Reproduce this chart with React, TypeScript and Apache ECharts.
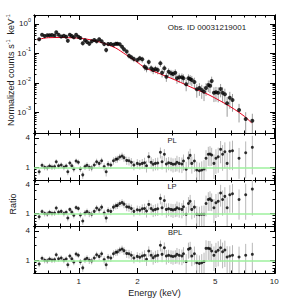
import React, { useEffect, useRef } from 'react';
import * as echarts from 'echarts';

// ---------- data ----------
const ENERGY = [
  0.627, 0.649, 0.669, 0.690, 0.709, 0.729, 0.752, 0.767, 0.788, 0.813,
  0.839, 0.862, 0.879, 0.900, 0.921, 0.943, 0.969, 0.995, 1.019, 1.048,
  1.076, 1.102, 1.132, 1.164, 1.200, 1.234, 1.272, 1.309, 1.349, 1.381,
  1.413, 1.459, 1.505, 1.547, 1.577, 1.621, 1.665, 1.704, 1.759, 1.807,
  1.858, 1.915, 1.993, 2.052, 2.113, 2.171, 2.222, 2.282, 2.347, 2.403,
  2.468, 2.536, 2.617, 2.669, 2.742, 2.807, 2.883, 2.966, 3.036, 3.118,
  3.181, 3.267, 3.372, 3.435, 3.545, 3.642, 3.715, 3.790, 3.907, 4.018,
  4.143, 4.260, 4.376, 4.480, 4.602, 4.695, 4.788, 4.919, 5.036, 5.172,
  5.320, 5.446, 5.593, 5.746, 5.930, 6.120, 6.611, 7.150, 7.732,
];

const COUNTS = [
  0.300, 0.430, 0.388, 0.410, 0.410, 0.420, 0.404, 0.519, 0.430, 0.373,
  0.394, 0.368, 0.269, 0.430, 0.388, 0.351, 0.430, 0.368, 0.332, 0.220,
  0.278, 0.243, 0.213, 0.257, 0.284, 0.257, 0.300, 0.257, 0.208, 0.130,
  0.208, 0.208, 0.197, 0.213, 0.213, 0.203, 0.168, 0.137, 0.116, 0.0834,
  0.0736, 0.0645, 0.0597, 0.068, 0.0630, 0.0354, 0.0312, 0.0510, 0.0312, 0.0273,
  0.0295, 0.0273, 0.0461, 0.0221, 0.0312, 0.0162, 0.0239, 0.0211, 0.0200, 0.0221,
  0.0143, 0.0155, 0.0155, 0.0143, 0.00895, 0.0143, 0.0135, 0.0125, 0.0107, 0.00606,
  0.00670, 0.00574, 0.00502, 0.00670, 0.00847, 0.00802, 0.0116, 0.00465, 0.00480, 0.00465,
  0.00621, 0.00465, 0.00410, 0.00203, 0.00315, 0.00263, 0.00120, 0.000597, 0.000522,
];

// fractional 1-sigma errors of each bin
const ERR_FRAC = [
  0.14, 0.13, 0.13, 0.13, 0.13, 0.13, 0.13, 0.12, 0.13, 0.13,
  0.13, 0.13, 0.15, 0.12, 0.13, 0.14, 0.12, 0.13, 0.14, 0.17,
  0.15, 0.15, 0.16, 0.15, 0.15,
  0.15, 0.15, 0.15, 0.17, 0.2, 0.17, 0.17, 0.17, 0.16, 0.16,
  0.16, 0.17, 0.18, 0.19, 0.2, 0.21, 0.22, 0.22,
  0.22, 0.23, 0.26, 0.27, 0.24, 0.27, 0.28, 0.28, 0.29, 0.25,
  0.31, 0.28, 0.33, 0.3, 0.31, 0.32, 0.31, 0.35, 0.35, 0.35,
  0.36, 0.42, 0.36, 0.36,
  0.38, 0.4, 0.48, 0.46, 0.5, 0.52, 0.46, 0.42, 0.44, 0.4,
  0.52, 0.52, 0.53, 0.48, 0.54, 0.55, 0.65, 0.58, 0.6,
  0.62, 0.7, 0.72,
];

const MODEL_E = [
  0.614, 0.698, 0.813, 0.969, 1.089, 1.224, 1.376, 1.546, 1.738, 1.954, 2.196,
  2.469, 2.774, 3.118, 3.505, 3.940, 4.428, 4.977, 5.594, 6.288, 7.067, 7.673,
];
const MODEL_C = [
  0.295, 0.340, 0.345, 0.332, 0.307, 0.263, 0.208, 0.152, 0.0916, 0.0552, 0.0319,
  0.0234, 0.0171, 0.0125, 0.0088, 0.00621, 0.00454, 0.00307, 0.00200, 0.00125, 0.000725, 0.000437,
];

const RATIO_PL = [
  0.81, 1.10, 1.00, 0.98, 1.06, 1.01, 1.03, 1.30, 1.07, 1.11,
  1.00, 1.06, 0.81, 1.22, 1.07, 0.92, 1.34, 1.27, 0.93, 0.70,
  1.03, 1.10, 1.00, 0.97, 1.11, 1.30, 1.20, 1.36, 1.03, 0.81,
  1.15, 1.11, 1.36, 1.45, 1.48, 1.62, 1.70, 1.57, 1.38, 1.36,
  1.27, 1.11, 1.20, 1.15,
  1.20, 1.24, 1.07, 1.64, 1.26, 1.15, 1.20, 1.22, 2.02, 1.30,
  1.84, 1.17, 1.24, 1.20, 1.15, 1.17, 1.27, 1.20, 1.17, 1.34,
  0.91, 1.55, 1.75, 1.20, 1.34, 0.88, 0.85, 0.88, 0.92, 1.53,
  1.84, 1.87, 1.78, 1.20, 1.53, 1.64, 2.32, 1.84, 2.08, 1.20,
  2.12, 2.18, 1.53, 1.98, 2.55,
];

const RATIO_LP = [
  0.86, 1.10, 1.00, 0.98, 1.06, 1.01, 1.03, 1.30, 1.07, 1.11,
  1.00, 1.06, 0.81, 1.22, 1.07, 0.92, 1.34, 1.27, 0.93, 0.70,
  1.03, 1.10, 1.00, 0.97, 1.11, 1.30, 1.20, 1.36, 1.03, 0.81,
  1.15, 1.11, 1.36, 1.45, 1.48, 1.62, 1.70, 1.57, 1.38, 1.36,
  1.27, 1.11, 1.20, 1.17,
  1.26, 1.27, 1.13, 1.55, 1.27, 1.17, 1.22, 1.26, 2.07, 1.32,
  1.87, 1.22, 1.26, 1.22, 1.19, 1.22, 1.32, 1.26, 1.22, 1.39,
  0.97, 1.62, 1.80, 1.22, 1.36, 0.97, 0.95, 0.97, 0.97, 1.62,
  1.96, 2.02, 1.87, 1.32, 1.68, 1.80, 2.68, 1.96, 2.28, 1.32,
  2.47, 2.59, 1.96, 2.47, 3.23,
];

const RATIO_BPL = [
  0.84, 1.10, 1.00, 0.98, 1.06, 1.01, 1.03, 1.30, 1.07, 1.11,
  1.00, 1.06, 0.81, 1.22, 1.07, 0.92, 1.34, 1.27, 0.93, 0.70,
  1.03, 1.10, 1.00, 0.97, 1.11, 1.30, 1.20, 1.36, 1.03, 0.81,
  1.15, 1.11, 1.36, 1.45, 1.48, 1.62, 1.70, 1.57, 1.38, 1.36,
  1.27, 1.11, 1.20, 1.15,
  1.22, 1.27, 1.05, 1.55, 1.27, 1.13, 1.22, 1.26, 2.02, 1.32,
  1.80, 1.22, 1.26, 1.22, 1.19, 1.22, 1.32, 1.26, 1.22, 1.36,
  0.94, 1.68, 1.75, 1.22, 1.36, 0.89, 0.86, 0.89, 0.94, 1.75,
  1.75, 1.72, 1.55, 1.26, 1.49, 1.60, 1.80, 1.49, 1.62, 1.17,
  1.22, 1.27, 1.17, 1.27, 1.32,
];

const PANEL_NAMES = ['PL', 'LP', 'BPL'];
const OBS_LABEL = 'Obs. ID 00031219001';
const Y_TITLE_TOP = 'Normalized counts s{s|-1}  keV{s|-1}';
const Y_TITLE_RATIO = 'Ratio';

// ---------- axes ----------
const X_MIN = 0.59;
const X_MAX = 10.1;
const X_LABELS = [1, 2, 5, 10];
const X_MAJOR = [1, 2, 5, 10];
const X_MINOR = [0.6, 0.7, 0.8, 0.9, 3, 4, 6, 7, 8, 9];

const TOP_Y_MIN = 2e-4;
const TOP_Y_MAX = 2;
const TOP_Y_LABELS = [1e-3, 1e-2, 1e-1, 1];
const TOP_Y_MAJOR = [1e-3, 1e-2, 1e-1, 1];
const DECADES = [1e-4, 1e-3, 1e-2, 1e-1];
const MULTS = [2, 3, 4, 5, 6, 7, 8, 9];
const TOP_Y_MINOR = DECADES.flatMap((d) => MULTS.map((m) => +(d * m).toPrecision(3))).filter(
  (v) => v > TOP_Y_MIN * 1.01
);

const R_MIN = 0.55;
const R_MAX = 5;
const R_LABELS = [1, 4];
const R_MAJOR = [1, 4];
const R_MINOR = [0.6, 0.7, 0.8, 0.9, 2, 3];

const FONT = '"Liberation Sans", Arial, Helvetica, sans-serif';
const TXT = '#222';

const GRIDS = [
  { top: 15, height: 118 },
  { top: 133, height: 47 },
  { top: 180, height: 46 },
  { top: 226, height: 47 },
];

const supRich = {
  s: { fontSize: 5.5, verticalAlign: 'top', lineHeight: 5, fontFamily: FONT, color: TXT, fill: TXT },
};

function xAxesFor(g: number) {
  const base: any = {
    type: 'log',
    logBase: 10,
    gridIndex: g,
    min: X_MIN,
    max: X_MAX,
    splitLine: { show: false },
    axisLine: { show: true, lineStyle: { color: '#000', width: 1 } },
  };
  const major = { show: true, inside: true, length: 5, customValues: X_MAJOR, lineStyle: { color: '#000', width: 1 } };
  const minor = { show: true, inside: true, length: 2.5, customValues: X_MINOR, lineStyle: { color: '#000', width: 1 } };
  return [
    {
      ...base,
      position: 'bottom',
      axisTick: major,
      axisLabel: {
        show: g === 3,
        customValues: X_LABELS,
        fontSize: 8,
        color: TXT,
        fontFamily: FONT,
        margin: 4,
        formatter: (v: number) => String(Math.round(v)),
      },
      name: g === 3 ? 'Energy (keV)' : '',
      nameLocation: 'middle',
      nameGap: 15,
      nameMoveOverlap: false,
      nameTextStyle: { fontSize: 9, color: TXT, fontFamily: FONT },
    },
    { ...base, position: 'top', axisTick: major, axisLabel: { show: false } },
    { ...base, position: 'bottom', axisTick: minor, axisLabel: { show: false } },
    { ...base, position: 'top', axisTick: minor, axisLabel: { show: false } },
  ];
}

function yAxesFor(g: number) {
  const isTop = g === 0;
  const base: any = {
    type: 'log',
    logBase: 10,
    gridIndex: g,
    min: isTop ? TOP_Y_MIN : R_MIN,
    max: isTop ? TOP_Y_MAX : R_MAX,
    splitLine: { show: false },
    axisLine: { show: true, lineStyle: { color: '#000', width: 1 } },
  };
  const major = {
    show: true, inside: true, length: 5,
    customValues: isTop ? TOP_Y_MAJOR : R_MAJOR,
    lineStyle: { color: '#000', width: 1 },
  };
  const minor = {
    show: true, inside: true, length: 2.5,
    customValues: isTop ? TOP_Y_MINOR : R_MINOR,
    lineStyle: { color: '#000', width: 1 },
  };
  const label: any = isTop
    ? {
        show: true,
        customValues: TOP_Y_LABELS,
        fontSize: 8,
        lineHeight: 14,
        color: TXT,
        fontFamily: FONT,
        margin: 3,
        formatter: (v: number) => {
          const e = v > 0 ? Math.round(Math.log10(v)) : Math.round(v);
          return '10{s|' + e + '}';
        },
        rich: supRich,
      }
    : {
        show: true,
        customValues: R_LABELS,
        fontSize: 8,
        color: TXT,
        fontFamily: FONT,
        margin: 4,
        formatter: (v: number) => String(Math.round(v)),
      };
  return [
    { ...base, position: 'left', axisTick: major, axisLabel: label },
    { ...base, position: 'right', axisTick: major, axisLabel: { show: false } },
    { ...base, position: 'left', axisTick: minor, axisLabel: { show: false } },
    { ...base, position: 'right', axisTick: minor, axisLabel: { show: false } },
  ];
}

function errorBarRender(color: string) {
  return (params: any, api: any) => {
    const x = api.value(0);
    const p1 = api.coord([x, api.value(2)]);
    const p2 = api.coord([x, api.value(3)]);
    return {
      type: 'line',
      shape: { x1: p1[0], y1: p1[1], x2: p2[0], y2: p2[1] },
      style: { stroke: color, lineWidth: 1 },
    };
  };
}

function buildOption() {
  const xAxis: any[] = [];
  const yAxis: any[] = [];
  GRIDS.forEach((_, g) => {
    xAxis.push(...xAxesFor(g));
    yAxis.push(...yAxesFor(g));
  });

  const series: any[] = [];
  // top panel
  series.push({
    type: 'custom',
    xAxisIndex: 0,
    yAxisIndex: 0,
    clip: true,
    silent: true,
    z: 1,
    renderItem: errorBarRender('#9a9a9a'),
    encode: { x: 0, y: 1 },
    data: ENERGY.map((e, i) => [e, COUNTS[i], COUNTS[i] * (1 - ERR_FRAC[i]), COUNTS[i] * (1 + ERR_FRAC[i])]),
  });
  series.push({
    type: 'line',
    xAxisIndex: 0,
    yAxisIndex: 0,
    symbol: 'none',
    smooth: 0.3,
    silent: true,
    z: 2,
    lineStyle: { color: '#e8001c', width: 1 },
    data: MODEL_E.map((e, i) => [e, MODEL_C[i]]),
  });
  series.push({
    type: 'scatter',
    xAxisIndex: 0,
    yAxisIndex: 0,
    symbol: 'circle',
    symbolSize: 4,
    silent: true,
    z: 3,
    itemStyle: { color: '#000' },
    data: ENERGY.map((e, i) => [e, COUNTS[i]]),
  });

  [RATIO_PL, RATIO_LP, RATIO_BPL].forEach((ratio, k) => {
    const g = k + 1;
    const ax = g * 4;
    series.push({
      type: 'line',
      xAxisIndex: ax,
      yAxisIndex: ax,
      data: [],
      silent: true,
      z: 1,
      markLine: {
        silent: true,
        symbol: ['none', 'none'],
        label: { show: false },
        lineStyle: { color: '#9ef09e', width: 1.5, type: 'solid' },
        data: [{ yAxis: 1 }],
      },
    });
    series.push({
      type: 'custom',
      xAxisIndex: ax,
      yAxisIndex: ax,
      clip: true,
      silent: true,
      z: 2,
      renderItem: errorBarRender('#b8b8b8'),
      encode: { x: 0, y: 1 },
      data: ENERGY.map((e, i) => [e, ratio[i], ratio[i] * (1 - ERR_FRAC[i]), ratio[i] * (1 + ERR_FRAC[i])]),
    });
    series.push({
      type: 'scatter',
      xAxisIndex: ax,
      yAxisIndex: ax,
      symbol: 'circle',
      symbolSize: 3,
      silent: true,
      z: 3,
      itemStyle: { color: '#000' },
      data: ENERGY.map((e, i) => [e, ratio[i]]),
    });
  });

  const text = (t: string, x: number, y: number, size: number, rotation = 0, extra: any = {}) => ({
    type: 'text',
    x,
    y,
    rotation,
    silent: true,
    style: {
      text: t,
      fontSize: size,
      fontFamily: FONT,
      fill: TXT,
      textAlign: 'center',
      textVerticalAlign: 'middle',
      ...extra,
    },
  });

  return {
    animation: false,
    backgroundColor: '#fff',
    grid: GRIDS.map((gr) => ({
      left: 34,
      right: 6,
      top: gr.top,
      height: gr.height,
      containLabel: false,
      outerBoundsMode: 'none',
    })),
    xAxis,
    yAxis,
    series,
    graphic: [
      text(OBS_LABEL, 207, 27, 8),
      text(PANEL_NAMES[0], 172, 140, 7.5),
      text(PANEL_NAMES[1], 172, 186, 7.5),
      text(PANEL_NAMES[2], 175, 232, 7.5),
      text(Y_TITLE_TOP, 11, 70, 9, Math.PI / 2, { lineHeight: 12, rich: supRich }),
      text(Y_TITLE_RATIO, 13, 204, 9, Math.PI / 2),
    ],
  };
}

export default function App() {
  const ref = useRef<HTMLDivElement>(null);
  useEffect(() => {
    if (!ref.current) return;
    const chart = echarts.init(ref.current, undefined, { renderer: 'svg' });
    chart.setOption(buildOption() as any);
    return () => chart.dispose();
  }, []);
  return (
    <div
      ref={ref}
      style={{ position: 'absolute', left: 0, top: 0, width: 281, height: 300, background: '#fff' }}
    />
  );
}
